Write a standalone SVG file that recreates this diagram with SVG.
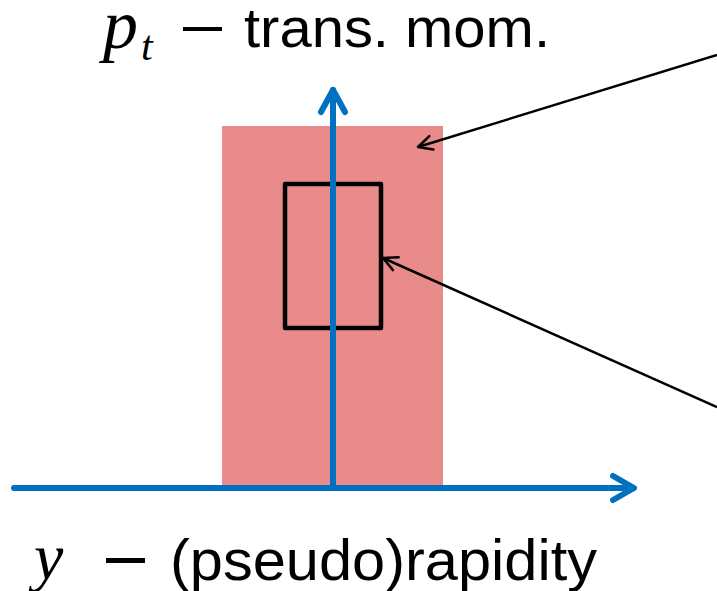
<svg xmlns="http://www.w3.org/2000/svg" width="717" height="591" viewBox="0 0 717 591">
<style>
.axis{stroke:#0070C0;stroke-width:6;fill:none;stroke-linecap:round;stroke-linejoin:round}
.ptr{stroke:#000;stroke-width:2.5;fill:none}
.lbl{font-family:"Liberation Sans",Arial,sans-serif;fill:#000}
.math{font-family:"Liberation Serif","Times New Roman",serif;font-style:italic;fill:#000}
</style>
<defs>
<marker id="open" markerUnits="userSpaceOnUse" viewBox="-16 -10 20 20" markerWidth="20" markerHeight="20" refX="0" refY="0" orient="auto">
<polyline points="-14,-7 0,0 -14,7" fill="none" stroke="#000" stroke-width="2.5" stroke-linecap="round" stroke-linejoin="round"/>
</marker>
</defs>
<rect id="region" x="222" y="126" width="221" height="362" fill="#E98B8B"/>
<g id="window">
<rect x="285" y="184" width="96" height="144" fill="none" stroke="#000" stroke-width="4.5" stroke-linejoin="round"/>
</g>
<g id="axes">
<line class="axis" x1="333" y1="488" x2="333" y2="90"/>
<polyline class="axis" points="321,112 333,90 345,112"/>
<line class="axis" x1="14" y1="488" x2="633" y2="488"/>
<polyline class="axis" points="613,476 634,488 613,500"/>
</g>
<g id="connectors">
<line class="ptr" x1="717" y1="55" x2="418" y2="147" marker-end="url(#open)"/>
<line class="ptr" x1="717" y1="407" x2="383" y2="258" marker-end="url(#open)"/>
</g>
<g id="label-pt">
<text class="math" x="103" y="48" font-size="70">p</text>
<text class="math" x="141" y="60" font-size="42">t</text>
<rect x="183" y="27" width="39" height="4" fill="#000"/>
<text class="lbl" x="244" y="47" font-size="56" textLength="306" lengthAdjust="spacingAndGlyphs">trans. mom.</text>
</g>
<g id="label-y">
<text class="math" x="34" y="579" font-size="66">y</text>
<rect x="106" y="558" width="39" height="5" fill="#000"/>
<text class="lbl" x="170" y="580" font-size="58" textLength="427" lengthAdjust="spacingAndGlyphs">(pseudo)rapidity</text>
</g>
</svg>
